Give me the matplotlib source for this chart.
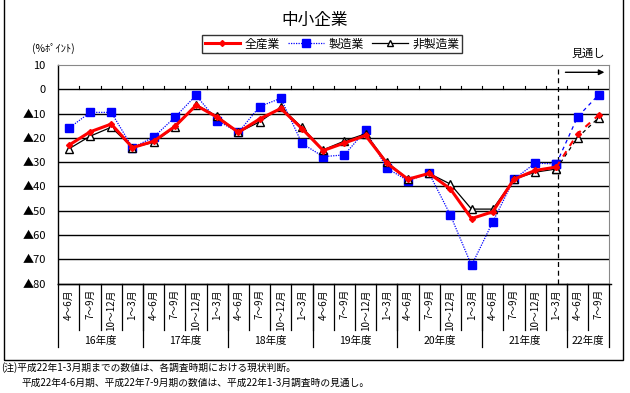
import matplotlib
matplotlib.use("Agg")
import matplotlib.pyplot as plt
from matplotlib.lines import Line2D

plt.rcParams['font.family'] = ['Noto Sans CJK JP', 'DejaVu Sans']

quarters = ["4〜6月", "7〜9月", "10〜12月", "1〜3月"] * 6 + ["4〜6月", "7〜9月"]
years = ["16年度", "17年度", "18年度", "19年度", "20年度", "21年度", "22年度"]
year_len = [4, 4, 4, 4, 4, 4, 2]

zensangyo = [-23, -17.5, -14.3, -24, -21.4, -15.3, -6.6, -11.5, -17.7, -12.2, -7.9, -16.2,
             -25.2, -22.1, -19, -30.4, -37, -34.6, -41, -53.2, -50.4, -37, -33.4, -32,
             -18.3, -10.6]
seizo = [-16, -9.5, -9.5, -24, -19.7, -11.5, -2.5, -12.9, -17.7, -7.1, -3.7, -22.3,
         -27.7, -27, -16.9, -32.5, -37.6, -34.6, -51.7, -72.5, -54.6, -37, -30.4, -30.7,
         -11.4, -2.2]
hiseizo = [-24.5, -19.3, -15.6, -24, -21.8, -15.6, -6.3, -11.1, -17.7, -13.4, -7.4, -15.7,
           -24.9, -21.3, -18.3, -30, -36.9, -34.6, -39, -49.3, -49.3, -37, -34.1, -32.8,
           -19.9, -11.7]

n = len(quarters)
x = list(range(n))
n_act = 24  # actual values up to 22年1-3月期, rest is forecast

fig = plt.figure(figsize=(6.3, 3.93), dpi=100)
W, H = 630, 393
ax = fig.add_axes([58.3 / W, (H - 283.7) / H, 551 / W, 218.7 / H])
ax.set_xlim(-0.5, n - 0.5)
ax.set_ylim(-80, 10)

# grid
for v in range(0, -80, -10):
    ax.axhline(v, color='black', lw=1.0, zorder=1)
ax.spines['top'].set_color('#888888')
ax.spines['right'].set_color('#888888')
ax.spines['left'].set_linewidth(1.0)
ax.spines['bottom'].set_linewidth(1.0)

# small ticks on zero line
for b in range(1, n):
    ax.plot([b - 0.5, b - 0.5], [0, 1.2], color='black', lw=0.8, zorder=1)

ax.set_yticks(range(10, -81, -10))
ax.set_yticklabels(["10", "0"] + ["▲%d" % (-v) for v in range(-10, -81, -10)], fontsize=8)
ax.tick_params(axis='y', length=0, pad=9)
ax.set_xticks([])

styles = [
    (seizo, dict(color='#0000ff', lw=0.9, ls=(0, (1, 1)), marker='s', ms=5.5,
                 mfc='#0000ff', mec='#0000ff'), 3),
    (hiseizo, dict(color='black', lw=0.9, marker='^', ms=6, mfc='white', mec='black'), 4),
    (zensangyo, dict(color='#ff0000', lw=2.2, marker='D', ms=3, mfc='#ff0000',
                     mec='#ff0000'), 5),
]
for vals, st, z in styles:
    ax.plot(x[:n_act], vals[:n_act], zorder=z, **st)
    fst = dict(st)
    fst['ls'] = (0, (3, 3))
    fst['lw'] = min(st['lw'], 1.5) if st['color'] != 'black' else 0.9
    ax.plot(x[n_act - 1:], vals[n_act - 1:], zorder=z, **fst)

# forecast divider and arrow
ax.axvline(23.1, color='black', lw=0.9, ls=(0, (4, 3)), zorder=2)
ax.annotate("", xy=(25.4, 7), xytext=(23.3, 7),
            arrowprops=dict(arrowstyle='-|>', color='black', lw=1.0, mutation_scale=8))
ax.text(24.5, 14.5, "見通し", ha='center', va='center', fontsize=8, clip_on=False)

# category labels under the axis
tr = ax.get_xaxis_transform()
for i, q in enumerate(quarters):
    ax.text(i, -0.025, q, rotation=90, ha='center', va='top', fontsize=7, transform=tr)
for b in range(1, n):
    ax.plot([b - 0.5, b - 0.5], [0, -0.212], color='black', lw=0.9, transform=tr, clip_on=False)
start = 0
for yname, ln in zip(years, year_len):
    ax.plot([start - 0.5, start - 0.5], [0, -0.29], color='black', lw=0.9, transform=tr, clip_on=False)
    ax.text(start + (ln - 1) / 2, -0.262, yname, ha='center', va='center', fontsize=7.5, transform=tr)
    start += ln
ax.plot([n - 0.5, n - 0.5], [0, -0.29], color='black', lw=0.9, transform=tr, clip_on=False)
ax.plot([-0.5, n - 0.4], [0, 0], color='black', lw=1.0, transform=tr, clip_on=False)

# title, unit, legend
fig.text(315 / W, 1 - 20 / H, "中小企業", ha='center', va='center', fontsize=12)
fig.text(32 / W, 1 - 48 / H, "(%ﾎﾟｲﾝﾄ)", ha='left', va='center', fontsize=7.5)
handles = [
    Line2D([], [], color='#ff0000', lw=2.2, marker='D', ms=3),
    Line2D([], [], color='#0000ff', lw=0.9, ls=(0, (1, 1)), marker='s', ms=5.5),
    Line2D([], [], color='black', lw=0.9, marker='^', ms=5, mfc='white'),
]
leg = fig.legend(handles, ["全産業", "製造業", "非製造業"], loc='center',
                 bbox_to_anchor=(332 / W, 1 - 44 / H), ncol=3, fontsize=8.5,
                 frameon=True, fancybox=False, edgecolor='black', handlelength=3,
                 handletextpad=0.4, columnspacing=0.7, borderpad=0.25)
leg.get_frame().set_linewidth(1.0)

# outer frame
fig.add_artist(plt.Rectangle((4 / W, 1 - 360 / H), 619 / W, 362 / H, transform=fig.transFigure,
                             fill=False, edgecolor='black', lw=1.0, clip_on=False))

# notes
fig.text(1 / W, 1 - 368 / H, "(注)平成22年1-3月期までの数値は、各調査時期における現状判断。",
         ha='left', va='center', fontsize=7)
fig.text(22 / W, 1 - 383 / H, "平成22年4-6月期、平成22年7-9月期の数値は、平成22年1-3月調査時の見通し。",
         ha='left', va='center', fontsize=7)

fig.savefig("out.png", dpi=100)
